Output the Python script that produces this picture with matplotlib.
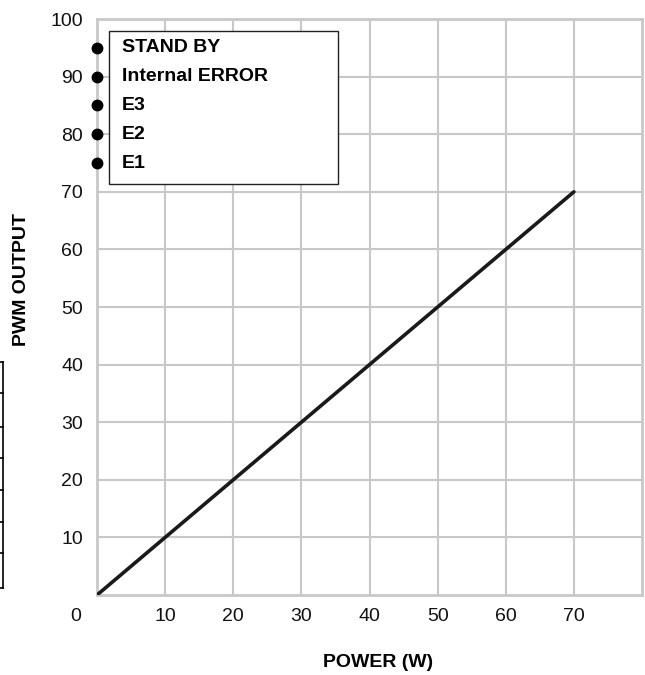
import matplotlib.pyplot as plt
from matplotlib.patches import Rectangle
from matplotlib.lines import Line2D

plt.rcParams['font.family'] = ['Liberation Sans', 'DejaVu Sans']

power = [0, 70]
pwm = [0, 70]

x_ticks = [10, 20, 30, 40, 50, 60, 70]
y_ticks = [10, 20, 30, 40, 50, 60, 70, 80, 90, 100]

states = ["STAND BY", "Internal ERROR", "E3", "E2", "E1"]
state_levels = [95, 90, 85, 80, 75]

fig = plt.figure(figsize=(6.45, 6.75), dpi=100)
ax = fig.add_axes([0.1504, 0.1185, 0.845, 0.8533])

grid_col = "#c8c8c8"
ax.plot(power, pwm, color="#1a1a1a", linewidth=2.6, solid_capstyle="round", zorder=3)

ax.set_xlim(0, 80)
ax.set_ylim(0, 100)
ax.set_xticks(x_ticks)
ax.set_yticks(y_ticks)
ax.grid(True, color=grid_col, linewidth=1.5)
ax.set_axisbelow(True)
for s in ax.spines.values():
    s.set_color(grid_col)
    s.set_linewidth(2)
ax.tick_params(length=0, labelsize=14, colors="#111111")
ax.tick_params(axis="y", pad=10)
ax.tick_params(axis="x", pad=9)
ax.text(-3.2, -3.8, "0", fontsize=14, ha="center", va="center", color="#111111")

ax.set_xlabel("POWER (W)", fontsize=14, fontweight="bold")
ax.xaxis.set_label_coords(0.516, -0.102)
ax.set_ylabel("PWM OUTPUT", fontsize=14, fontweight="bold")
ax.yaxis.set_label_coords(-0.138, 0.547)
ax.yaxis.label.set_va("center")

# legend box with state levels
ax.add_patch(Rectangle((1.76, 71.35), 33.54, 26.55, facecolor="white",
                       edgecolor="#222222", linewidth=1, zorder=4))
ax.plot([0] * len(state_levels), state_levels, "o", color="black",
        markersize=7.5, clip_on=False, zorder=5)
for name, lvl in zip(states, state_levels):
    ax.text(3.6, lvl, name, fontsize=14, fontweight="bold", va="center", zorder=6)

# cropped table fragment at left edge
tbl_y = [362, 393, 427, 458, 490, 522, 553, 588]
fig.add_artist(Line2D([3 / 645, 3 / 645], [1 - 362 / 675, 1 - 588 / 675],
                      color="black", linewidth=1.2))
for yy in tbl_y:
    fig.add_artist(Line2D([0, 3 / 645], [1 - yy / 675, 1 - yy / 675],
                          color="black", linewidth=1.2))

fig.savefig("out.png", dpi=100)
